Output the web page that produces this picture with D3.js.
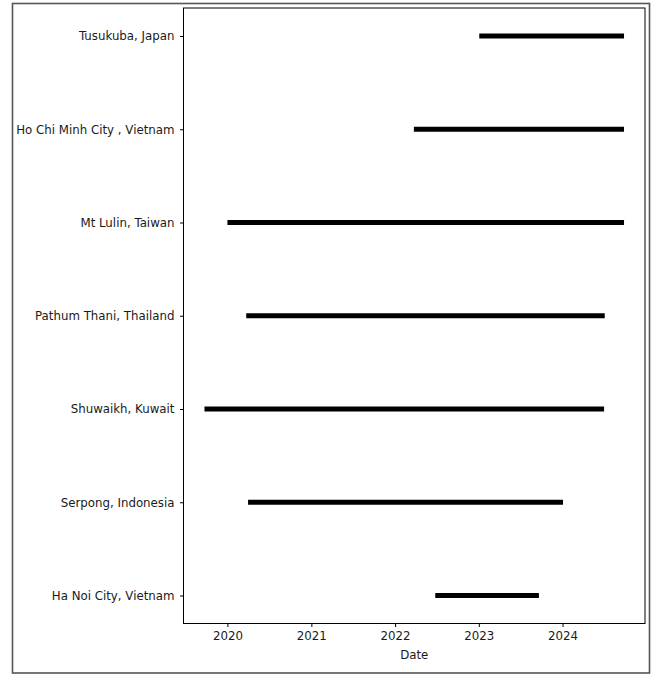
<!DOCTYPE html>
<html>
<head>
<meta charset="utf-8">
<script src="https://cdn.jsdelivr.net/npm/d3@7"></script>
<style>
  html, body { margin: 0; padding: 0; background: #fff; }
  svg { display: block; }
  svg text { font-family: "DejaVu Sans", sans-serif; }
</style>
</head>
<body>
<svg id="chart" width="657" height="675"></svg>
<script>
// Categories, top to bottom
const sites = [
  "Tusukuba, Japan",
  "Ho Chi Minh City , Vietnam",
  "Mt Lulin, Taiwan",
  "Pathum Thani, Thailand",
  "Shuwaikh, Kuwait",
  "Serpong, Indonesia",
  "Ha Noi City, Vietnam"
];
const startDates = ["2023-01-03", "2022-03-24", "2020-01-01", "2020-03-23", "2019-09-23", "2020-03-31", "2022-06-25"];
const endDates   = ["2024-09-25", "2024-09-25", "2024-09-25", "2024-07-03", "2024-06-30", "2024-01-03", "2023-09-20"];
const tickYears  = [2020, 2021, 2022, 2023, 2024];
const xLabel = "Date";

(function () {
const FONT = "DejaVu Sans, sans-serif";
const FS = 11.8;
const parse = d3.utcParse("%Y-%m-%d");
const rows = sites.map((s, i) => ({ site: s, start: parse(startDates[i]), end: parse(endDates[i]) }));

const svg = d3.select("#chart");
const pL = 183.5, pR = 645, pT = 8, pB = 623.5;

// outer frame
svg.append("rect").attr("x", 12.5).attr("y", 3.5).attr("width", 637).attr("height", 669.5)
  .attr("fill", "none").attr("stroke", "#555").attr("stroke-width", 1.6);

// x scale with 5% margins like matplotlib
const minD = d3.min(rows, d => d.start), maxD = d3.max(rows, d => d.end);
const span = maxD - minD;
const x = d3.scaleUtc()
  .domain([new Date(+minD - span * 0.05), new Date(+maxD + span * 0.05)])
  .range([pL, pR]);

const y = d3.scalePoint().domain(sites).range([pT, pB]).padding(0.3);

// bars
svg.append("g").selectAll("line").data(rows).join("line")
  .attr("x1", d => x(d.start)).attr("x2", d => x(d.end))
  .attr("y1", d => y(d.site)).attr("y2", d => y(d.site))
  .attr("stroke", "#000").attr("stroke-width", 5);

// axes
const xAxis = d3.axisBottom(x)
  .tickValues(tickYears.map(yr => new Date(Date.UTC(yr, 0, 1))))
  .tickFormat(d3.utcFormat("%Y"))
  .tickSize(3.5).tickPadding(5);
const gx = svg.append("g").attr("transform", `translate(0,${pB})`).call(xAxis)
  .attr("font-family", FONT).attr("font-size", FS);
gx.select(".domain").remove();
gx.selectAll("text").attr("fill", "#1a1a1a");
gx.selectAll("line").attr("stroke", "#000");

const yAxis = d3.axisLeft(y).tickSize(3.5).tickPadding(5.5);
const gy = svg.append("g").attr("transform", `translate(${pL},0)`).call(yAxis)
  .attr("font-family", FONT).attr("font-size", FS);
gy.select(".domain").remove();
gy.selectAll("text").attr("fill", "#1a1a1a");
gy.selectAll("line").attr("stroke", "#000");

// plot frame
svg.append("rect").attr("x", pL).attr("y", pT).attr("width", pR - pL).attr("height", pB - pT)
  .attr("fill", "none").attr("stroke", "#000").attr("stroke-width", 1);

// x label
svg.append("text").attr("x", (pL + pR) / 2).attr("y", 658.5)
  .attr("text-anchor", "middle").attr("font-family", FONT).attr("font-size", FS)
  .attr("fill", "#1a1a1a").text(xLabel);
})();
</script>
</body>
</html>
